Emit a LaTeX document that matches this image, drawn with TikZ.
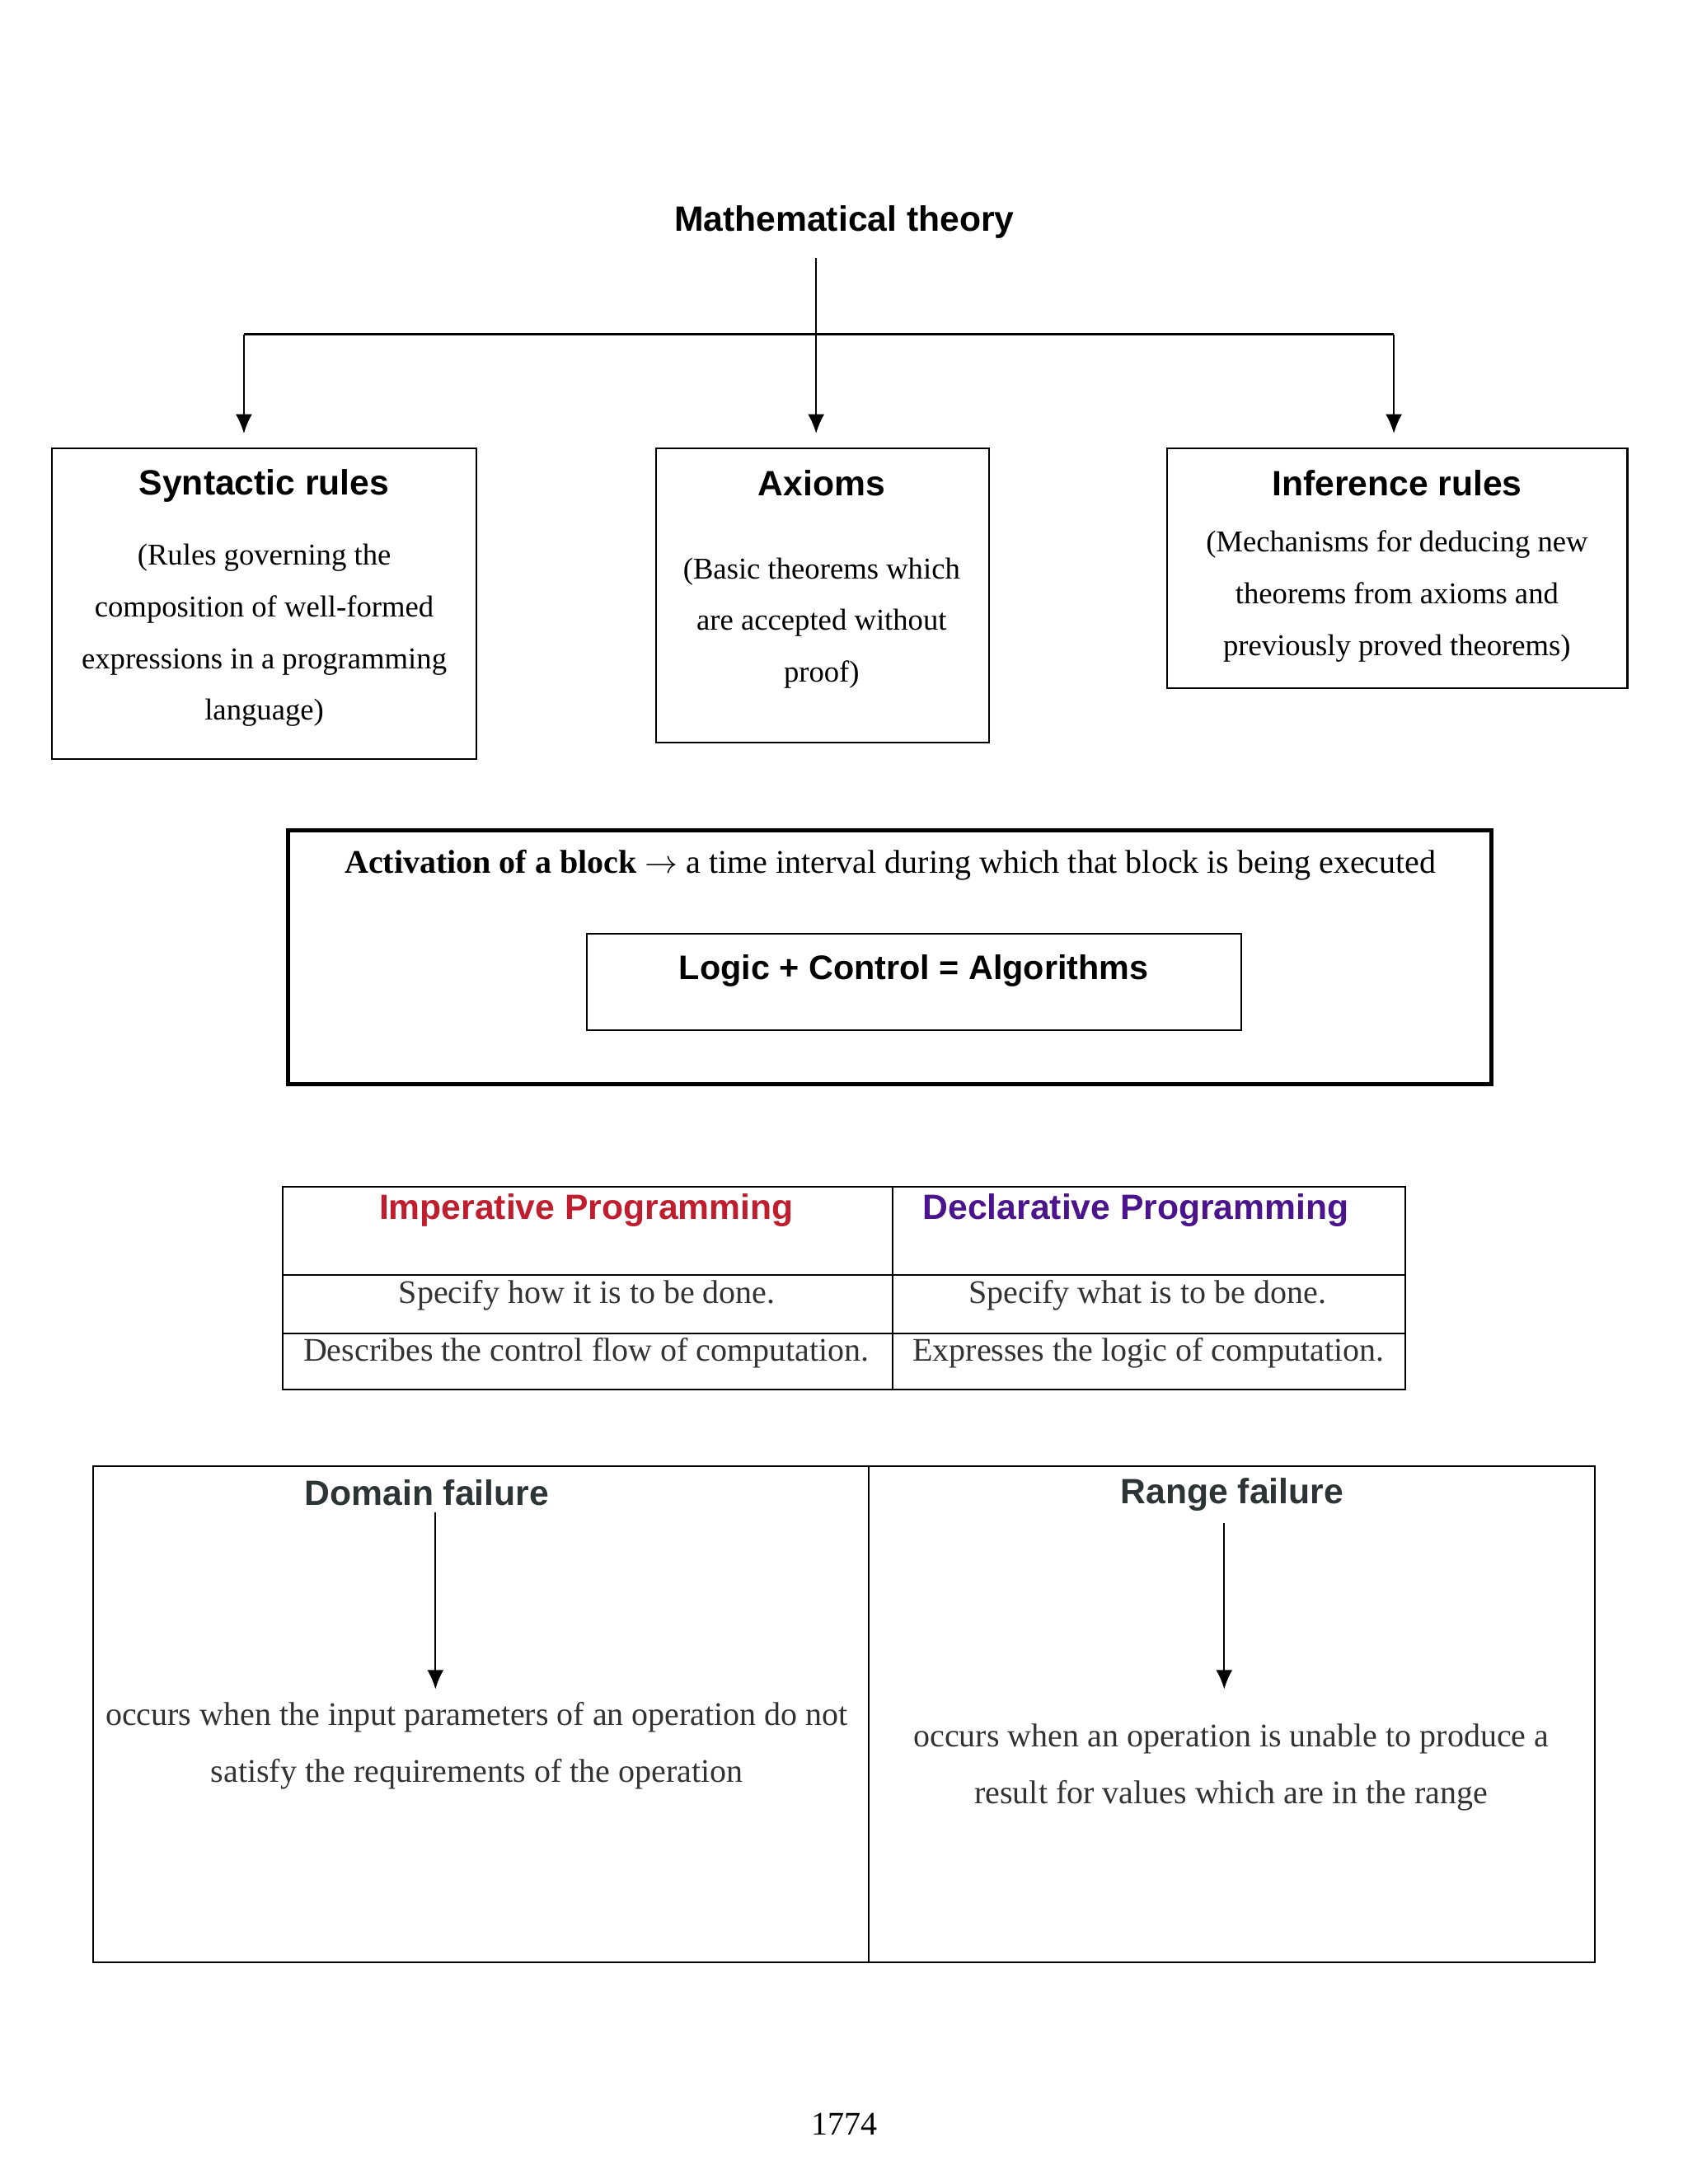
\documentclass[tikz,border=0pt]{standalone}
\usepackage{fontspec}
\setmainfont{Liberation Serif}
\setsansfont{Liberation Sans}
\usepackage{tikz}
\usepackage{xcolor}
\usetikzlibrary{arrows.meta,calc}

\definecolor{impred}{RGB}{190,30,45}
\definecolor{declpurple}{RGB}{75,20,140}
\definecolor{slate}{RGB}{45,52,54}
\definecolor{bodygray}{RGB}{51,51,51}

\begin{document}
\begin{tikzpicture}[>={Latex[length=7pt,width=6pt]},
  title/.style={font=\fontsize{12.8}{15}\selectfont\sffamily\bfseries},
  body/.style={font=\fontsize{11}{18.8}\selectfont,align=center},
  box/.style={draw,line width=0.7pt,inner sep=0pt},
  cell/.style={font=\fontsize{12}{14}\selectfont,text=bodygray},
  link/.style={->,line width=0.6pt}]
  \useasboundingbox (0,0) rectangle (21.59,27.94);

  % top: theory and its three parts
  \node[title] (theory) at (10.80,25.10) {Mathematical theory};
  \coordinate (tM) at (10.44,24.64);
  \coordinate (jL) at (3.12,23.66);
  \coordinate (jM) at (10.44,23.66);
  \coordinate (jR) at (17.83,23.66);

  \node[box,minimum width=5.43cm,minimum height=3.975cm] (syn) at (3.379,20.214) {};
  \node[box,minimum width=4.26cm,minimum height=3.764cm] (axi) at (10.521,20.320) {};
  \node[box,minimum width=5.89cm,minimum height=3.068cm] (inf) at (17.874,20.668) {};

  \draw[line width=0.9pt] (jL) -- (jR);
  \draw[link,shorten >=0.18cm] (jL) -- (jL |- syn.north);
  \draw[link,shorten >=0.18cm] (tM) -- (tM |- axi.north);
  \draw[link,shorten >=0.18cm] (jR) -- (jR |- inf.north);

  \node[title] (synT) at (3.38,21.73) {Syntactic rules};
  \node[body] (synB) at (3.38,19.81) {(Rules governing the\\composition of well-formed\\expressions in a programming\\language)};
  \node[title] (axiT) at (10.51,21.76) {Axioms};
  \node[body] (axiB) at (10.51,19.97) {(Basic theorems which\\are accepted without\\proof)};
  \node[title] (infT) at (17.87,21.76) {Inference rules};
  \node[body] (infB) at (17.87,20.31) {(Mechanisms for deducing new\\theorems from axioms and\\previously proved theorems)};

  % middle: activation of a block
  \node[draw,line width=1.5pt,minimum width=15.40cm,minimum height=3.247cm] (act) at (11.38,15.697) {};
  \node[font=\fontsize{12}{14}\selectfont] (actT) at (11.39,16.87)
    {\textbf{Activation of a block} $\rightarrow$ a time interval during which that block is being executed};
  \node[box,minimum width=8.37cm,minimum height=1.233cm] (logic) at (11.691,15.376) {};
  \node[title,font=\fontsize{12.4}{15}\selectfont\sffamily\bfseries] (logicT) at (11.69,15.52) {Logic + Control = Algorithms};

  % imperative vs declarative
  \draw[line width=0.6pt] (3.616,12.756) rectangle (17.974,10.16);
  \draw[line width=0.6pt] (3.616,11.628) -- (17.974,11.628);
  \draw[line width=0.6pt] (3.616,10.880) -- (17.974,10.880);
  \draw[line width=0.6pt] (11.417,12.756) -- (11.417,10.16);
  \node[title,text=impred] (impT) at (7.50,12.46) {Imperative Programming};
  \node[title,text=declpurple] (decT) at (14.53,12.46) {Declarative Programming};
  \node[cell] (imp1) at (7.51,11.37) {Specify how it is to be done.};
  \node[cell] (dec1) at (14.68,11.37) {Specify what is to be done.};
  \node[cell] (imp2) at (7.50,10.63) {Describes the control flow of computation.};
  \node[cell] (dec2) at (14.69,10.63) {Expresses the logic of computation.};

  % domain vs range failure
  \draw[line width=0.6pt] (1.191,9.182) rectangle (20.40,2.836);
  \draw[line width=0.6pt] (11.11,9.182) -- (11.11,2.836);
  \node[title,text=slate] (domT) at (5.46,8.84) {Domain failure};
  \node[title,text=slate] (ranT) at (15.76,8.82) {Range failure};
  \coordinate (dTop) at (5.57,8.59);
  \coordinate (dTip) at (5.57,6.33);
  \coordinate (rTop) at (15.66,8.46);
  \coordinate (rTip) at (15.66,6.33);
  \draw[link] (dTop) -- (dTip);
  \draw[link] (rTop) -- (rTip);
  \node[cell,align=center,font=\fontsize{12}{20.6}\selectfont] (domB) at (6.10,5.61)
    {occurs when the input parameters of an operation do not\\satisfy the requirements of the operation};
  \node[cell,align=center,font=\fontsize{12}{20.6}\selectfont] (ranB) at (15.75,5.33)
    {occurs when an operation is unable to produce a\\result for values which are in the range};

  \node[font=\fontsize{12}{14}\selectfont] (page) at (10.80,0.77) {1774};
\end{tikzpicture}
\end{document}
